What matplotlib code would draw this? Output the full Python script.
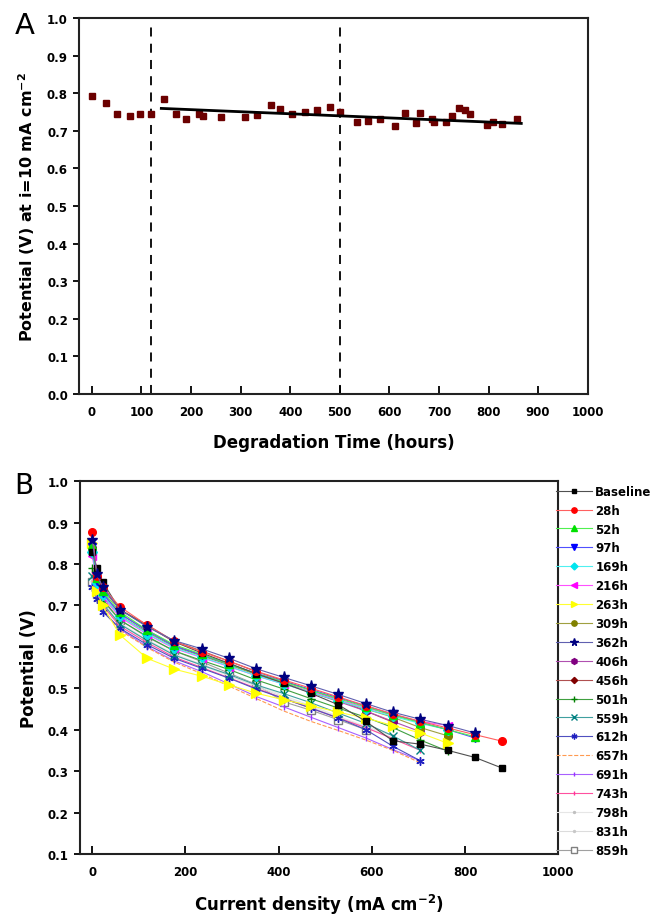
import numpy as np
import matplotlib
matplotlib.use("Agg")
import matplotlib.pyplot as plt

plt.rcParams['font.family'] = 'DejaVu Sans'
plt.rcParams['font.weight'] = 'bold'
plt.rcParams['mathtext.fontset'] = 'custom'
plt.rcParams['mathtext.rm'] = 'DejaVu Sans:bold'
plt.rcParams['mathtext.default'] = 'rm'

## Panel A : potential at 10 mA cm-2 vs degradation time
t_hours = [1, 28, 51, 76, 97, 120, 146, 169, 190, 216, 225, 261, 308, 332, 361, 379,
           404, 429, 454, 480, 500, 534, 557, 581, 611, 632, 654, 661, 685, 690, 714,
           727, 740, 752, 763, 796, 810, 828, 857]
v_10mA = [0.792, 0.775, 0.745, 0.740, 0.744, 0.744, 0.786, 0.744, 0.731, 0.744, 0.739,
          0.737, 0.737, 0.743, 0.770, 0.758, 0.744, 0.751, 0.756, 0.763, 0.751, 0.724,
          0.726, 0.731, 0.714, 0.747, 0.721, 0.747, 0.731, 0.723, 0.723, 0.740, 0.760,
          0.756, 0.745, 0.715, 0.724, 0.718, 0.731]
trend_t = [140, 866]
trend_v = [0.760, 0.720]
phase_t = [120, 500]

## Panel B : polarisation curves
j_grid = [0, 10, 22, 59, 118, 176, 235, 294, 352, 411, 469, 528, 587, 645, 704, 763, 821, 880]
labels = ['Baseline', '28h', '52h', '97h', '169h', '216h', '263h', '309h', '362h', '406h',
          '456h', '501h', '559h', '612h', '657h', '691h', '743h', '798h', '831h', '859h']

v_base = [0.830, 0.790, 0.757, 0.690, 0.650, 0.612, 0.585, 0.560, 0.535, 0.512, 0.488, 0.460, 0.420, 0.373, 0.365, 0.350, 0.333, 0.307]
v_28 = [0.878, 0.772, 0.745, 0.697, 0.652, 0.613, 0.588, 0.565, 0.541, 0.520, 0.500, 0.479, 0.458, 0.438, 0.420, 0.404, 0.388, 0.372]
v_52 = [0.845, 0.765, 0.735, 0.685, 0.640, 0.605, 0.582, 0.558, 0.535, 0.515, 0.495, 0.475, 0.455, 0.435, 0.417, 0.400, 0.383]
v_97 = [0.840, 0.760, 0.730, 0.680, 0.638, 0.602, 0.580, 0.558, 0.536, 0.516, 0.497, 0.477, 0.457, 0.437, 0.418, 0.400, 0.380]
v_169 = [0.830, 0.755, 0.725, 0.675, 0.632, 0.598, 0.575, 0.553, 0.530, 0.510, 0.490, 0.470, 0.450, 0.432, 0.415, 0.400]
v_216 = [0.820, 0.750, 0.720, 0.672, 0.630, 0.596, 0.574, 0.552, 0.530, 0.510, 0.492, 0.472, 0.453, 0.435, 0.420, 0.410]
v_263 = [0.850, 0.735, 0.700, 0.629, 0.572, 0.546, 0.529, 0.508, 0.488, 0.472, 0.458, 0.442, 0.428, 0.410, 0.392, 0.367]
v_309 = [0.830, 0.755, 0.725, 0.675, 0.635, 0.600, 0.578, 0.556, 0.533, 0.512, 0.490, 0.470, 0.450, 0.430, 0.405, 0.385]
v_362 = [0.858, 0.775, 0.745, 0.690, 0.648, 0.615, 0.595, 0.572, 0.547, 0.526, 0.506, 0.485, 0.463, 0.442, 0.425, 0.410, 0.392]
v_406 = [0.835, 0.760, 0.730, 0.680, 0.640, 0.603, 0.580, 0.558, 0.535, 0.513, 0.490, 0.468, 0.445, 0.420, 0.395]
v_456 = [0.840, 0.765, 0.740, 0.690, 0.653, 0.613, 0.590, 0.565, 0.540, 0.518, 0.495, 0.472, 0.445, 0.418]
v_501 = [0.790, 0.750, 0.715, 0.665, 0.625, 0.590, 0.567, 0.545, 0.520, 0.498, 0.475, 0.452, 0.430, 0.405, 0.375, 0.348]
v_559 = [0.770, 0.740, 0.705, 0.655, 0.615, 0.580, 0.556, 0.533, 0.508, 0.487, 0.465, 0.440, 0.415, 0.385, 0.350]
v_612 = [0.745, 0.715, 0.685, 0.645, 0.605, 0.572, 0.548, 0.524, 0.498, 0.475, 0.452, 0.428, 0.400, 0.360, 0.325]
v_657 = [0.760, 0.710, 0.690, 0.640, 0.598, 0.563, 0.535, 0.505, 0.475, 0.445, 0.420, 0.398, 0.375, 0.350, 0.320]
v_691 = [0.750, 0.715, 0.690, 0.643, 0.600, 0.566, 0.540, 0.510, 0.480, 0.455, 0.430, 0.405, 0.380, 0.352, 0.325]
v_743 = [0.780, 0.730, 0.700, 0.650, 0.610, 0.575, 0.550, 0.525, 0.500, 0.475, 0.452, 0.428, 0.405, 0.378, 0.350]
v_798 = [0.770, 0.735, 0.705, 0.658, 0.617, 0.583, 0.558, 0.533, 0.508, 0.482, 0.458, 0.432, 0.408, 0.385]
v_831 = [0.760, 0.730, 0.700, 0.655, 0.614, 0.580, 0.555, 0.530, 0.505, 0.478, 0.454, 0.430, 0.405, 0.380]
v_859 = [0.756, 0.727, 0.711, 0.665, 0.623, 0.590, 0.564, 0.536, 0.509, 0.467, 0.447, 0.424, 0.400]

curves = [v_base, v_28, v_52, v_97, v_169, v_216, v_263, v_309, v_362, v_406,
          v_456, v_501, v_559, v_612, v_657, v_691, v_743, v_798, v_831, v_859]

# styles
mcolors = ['black', 'red', '#00e000', '#0000ff', '#00e5ee', '#ff00ff', '#ffff00', '#808000',
           '#000080', '#800080', '#800000', '#008000', '#008080', '#2020c0', '#ff9040',
           '#9933ff', '#ff3399', '#c0c0c0', '#c8c8c8', '#808080']
lcolors = ['#505050', '#ff6060', '#50f050', '#5050ff', '#50f0f0', '#ff50ff', '#ffff30', '#a0a040',
           '#6060b0', '#b050b0', '#b05050', '#40a040', '#40a0a0', '#5050c0', '#ff9a50',
           '#a860ff', '#ff50a0', '#e6e6e6', '#dcdcdc', '#a0a0a0']
markers = ['s', 'o', '^', 'v', 'D', '<', '>', 'o', '*', 'h', 'D', '+', 'x', (6, 2, 0), 'None',
           '|', '|', '.', '.', 's']
msizes = [5, 5.5, 6, 6, 5, 6, 6.5, 5.5, 8, 6, 4.5, 6, 6, 6, 5, 5, 4, 4, 4, 5.5]
lstyles = ['-', '-', '-', '-', '-', '-', '-', '-', '-', '-', '-', '-', '-', '-', '--',
           '-', '-', '-', '-', '-']

fig = plt.figure(figsize=(6.53, 9.2), dpi=100)
axA = fig.add_axes([0.121, 0.571, 0.779, 0.408])
axB = fig.add_axes([0.122, 0.0707, 0.733, 0.4053])

# ---- A
axA.vlines(phase_t, 0, 0.985, colors='black', linestyles=(0, (5, 4)), lw=1.3)
axA.plot(t_hours, v_10mA, 's', color='#6b0000', ms=5, zorder=3)
axA.plot(trend_t, trend_v, '-', color='black', lw=2, zorder=4)
axA.set_xlim(-26, 1000)
axA.set_ylim(0, 1.0)
axA.set_xticks(np.arange(0, 1001, 100))
axA.set_yticks(np.arange(0, 1.01, 0.1))
axA.set_yticklabels([f"{v:.1f}" for v in np.arange(0, 1.01, 0.1)])
axA.set_xlabel("Degradation Time (hours)", fontsize=12, fontweight='bold', labelpad=11)
axA.set_ylabel(r"Potential (V) at i=10 mA cm$^{-2}$", fontsize=11.5, fontweight='bold', labelpad=7)

# ---- B
n = len(curves)
for i in range(n):
    v = curves[i]
    mfc = 'white' if labels[i] == '859h' else mcolors[i]
    z = 3 + (n - i) * 0.05
    if labels[i] in ('362h', '28h'):
        z = 5
    axB.plot(j_grid[:len(v)], v, color=lcolors[i], lw=0.8, ls=lstyles[i],
             marker=markers[i], ms=msizes[i], mfc=mfc, mec=mcolors[i],
             label=labels[i], zorder=z)
axB.set_xlim(-27, 1000)
axB.set_ylim(0.1, 1.0)
axB.set_xticks(np.arange(0, 1001, 200))
axB.set_yticks(np.arange(0.1, 1.01, 0.1))
axB.set_yticklabels([f"{v:.1f}" for v in np.arange(0.1, 1.01, 0.1)])
axB.set_xlabel(r"Current density (mA cm$^{-2}$)", fontsize=12, fontweight='bold', labelpad=10)
axB.set_ylabel("Potential (V)", fontsize=12, fontweight='bold', labelpad=7)

for ax in (axA, axB):
    for s in ax.spines.values():
        s.set_linewidth(1.5)
        s.set_color('#222222')
    ax.tick_params(axis='x', direction='in', length=6, width=1.3, labelsize=8.5, pad=8)
    ax.tick_params(axis='y', direction='out', length=4, width=1.3, labelsize=8.5, pad=4)
    for lab in ax.get_xticklabels() + ax.get_yticklabels():
        lab.set_fontweight('bold')

fig.legend(*axB.get_legend_handles_labels(), loc='upper left', bbox_to_anchor=(0.852, 0.472),
           frameon=False, handlelength=3.0, handletextpad=0.3, markerscale=0.7,
           labelspacing=0.5, borderpad=0, borderaxespad=0, prop={'weight': 'bold', 'size': 8.5})

fig.text(0.022, 0.963, "A", fontsize=21, fontweight='normal')
fig.text(0.022, 0.463, "B", fontsize=20, fontweight='normal')

fig.savefig("out.png", dpi=100)
